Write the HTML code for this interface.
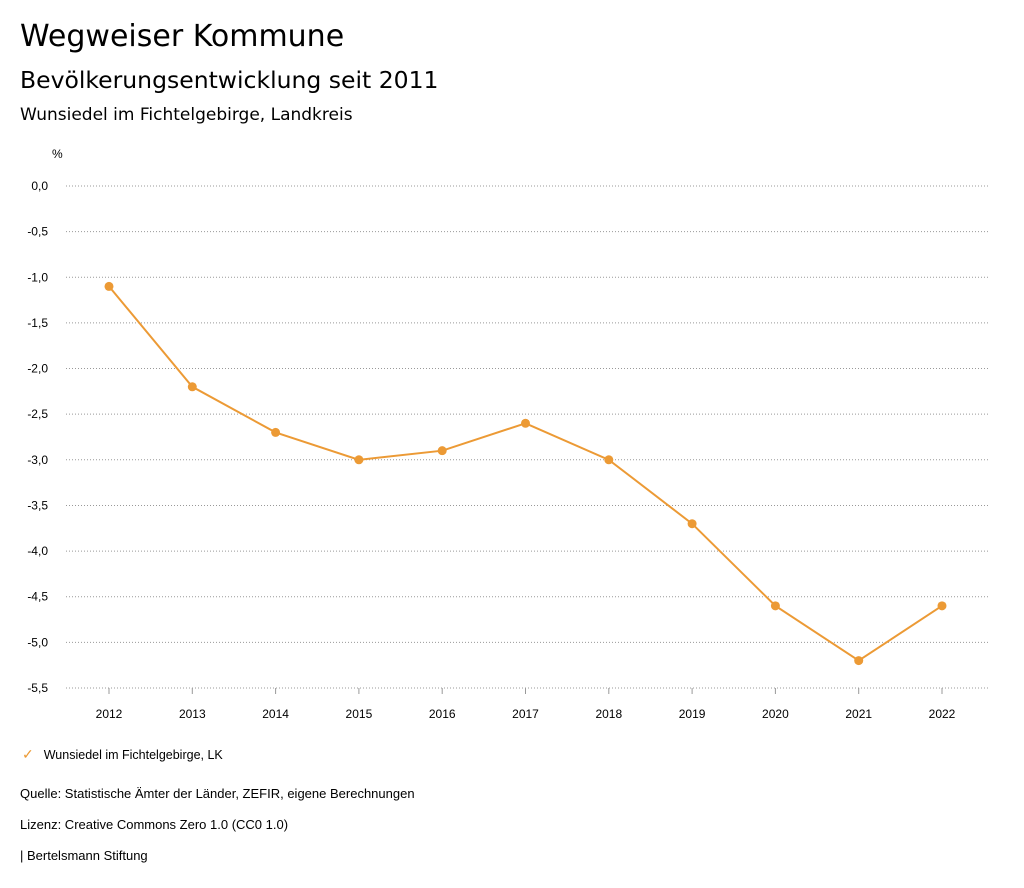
<!DOCTYPE html>
<html><head><meta charset="utf-8"><style>
body{margin:0;width:1024px;height:888px;background:#fff;font-family:"Liberation Sans",sans-serif;color:#000;position:relative;overflow:hidden}
.t{position:absolute;left:20px;white-space:nowrap}
.h{font-family:"DejaVu Sans",sans-serif}
</style></head><body>
<div class="t h" style="top:19px;font-size:30px">Wegweiser Kommune</div>
<div class="t h" style="top:66px;font-size:23.5px">Bevölkerungsentwicklung seit 2011</div>
<div class="t h" style="top:105px;font-size:17px">Wunsiedel im Fichtelgebirge, Landkreis</div>
<svg id="chart" width="1024" height="888" style="position:absolute;left:0;top:0" font-family="Liberation Sans, sans-serif"></svg>
<div class="t" style="top:746px;left:22px;font-size:12.5px"><span style="color:#ec9a35;font-size:14px;margin-right:10px">✓</span>Wunsiedel im Fichtelgebirge, LK</div>
<div class="t" style="top:786px;font-size:13px">Quelle: Statistische Ämter der Länder, ZEFIR, eigene Berechnungen</div>
<div class="t" style="top:817px;font-size:13px">Lizenz: Creative Commons Zero 1.0 (CC0 1.0)</div>
<div class="t" style="top:848px;font-size:13px">| Bertelsmann Stiftung</div>
<script>
const years=[2012,2013,2014,2015,2016,2017,2018,2019,2020,2021,2022];
const values=[-1.1,-2.2,-2.7,-3.0,-2.9,-2.6,-3.0,-3.7,-4.6,-5.2,-4.6];
const yTicks=[0,-0.5,-1,-1.5,-2,-2.5,-3,-3.5,-4,-4.5,-5,-5.5];
const svg=document.getElementById('chart');const NS='http://www.w3.org/2000/svg';
const x=i=>109+i*83.3;const y=v=>186+(-v)*91.27;
function mk(t,a){const e=document.createElementNS(NS,t);for(const k in a)e.setAttribute(k,a[k]);svg.appendChild(e);return e;}
let u=mk('text',{x:52,y:158,'font-size':12});u.textContent='%';


yTicks.forEach(v=>{
 const l=mk('line',{x1:66,x2:990,y1:y(v),y2:y(v),stroke:'#999','stroke-dasharray':'1,2'});
 
 
 const t=mk('text',{x:48,y:y(v)+4,'font-size':12,'text-anchor':'end'});t.textContent=v.toFixed(1).replace('.',',').replace('-0,0','0,0');
 
 
});
years.forEach((yr,i)=>{
 const tk=mk('line',{x1:x(i),x2:x(i),y1:688,y2:694,stroke:'#999'});
 
 
 const t=mk('text',{x:x(i),y:718,'font-size':12,'text-anchor':'middle'});t.textContent=yr;
 
 
});
const p=mk('polyline',{points:values.map((v,i)=>x(i)+','+y(v)).join(' '),fill:'none',stroke:'#ec9a35','stroke-width':2});


values.forEach((v,i)=>{const c=mk('circle',{cx:x(i),cy:y(v),r:4.5,fill:'#ec9a35'});
 
 });
</script>
</body></html>
